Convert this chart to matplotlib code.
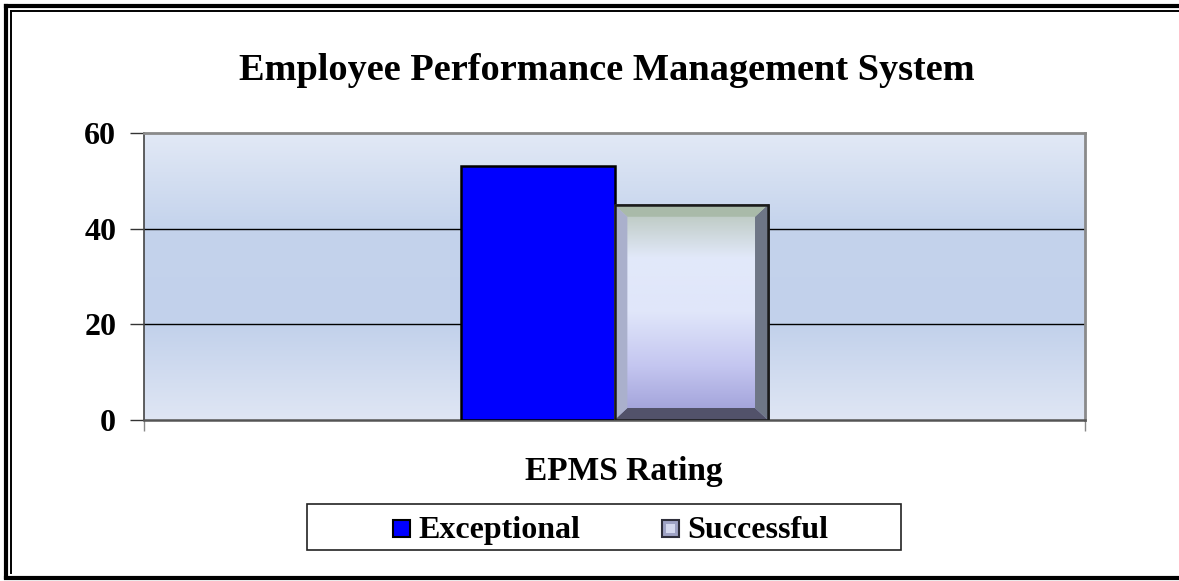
import numpy as np
import matplotlib.pyplot as plt
from matplotlib.patches import Rectangle, Polygon
from matplotlib.colors import LinearSegmentedColormap

categories = ["EPMS Rating"]
series = ["Exceptional", "Successful"]
values = [53, 45]
yticks = [0, 20, 40, 60]

W, H = 1179, 581
fig = plt.figure(figsize=(W / 100, H / 100), dpi=100)
plt.rcParams['font.family'] = ['Liberation Serif', 'DejaVu Serif']


def px(x, y):
    # pixel position (from top-left) -> figure fraction
    return x / W, 1 - y / H


# frame lines: double on left and top, single thick line at the bottom
frame = [((6, 6), (6, 577), 3.0), ((6, 6), (1179, 6), 3.0), ((11, 11), (11, 573), 1.4),
         ((11, 11), (1179, 11), 1.4), ((6, 577.5), (1179, 577.5), 3.0)]
for (xa, ya), (xb, yb), lw in frame:
    (fa, ga), (fb, gb) = px(xa, ya), px(xb, yb)
    fig.add_artist(plt.Line2D([fa, fb], [ga, gb], transform=fig.transFigure, color='black', linewidth=lw))

ax = fig.add_axes([144 / W, 1 - 420 / H, (1085 - 144) / W, (420 - 133) / H])
ax.set_xlim(-0.5, 0.5)
ax.set_ylim(0, 60)

# plot area gradient
bg = LinearSegmentedColormap.from_list('bg', ['#dfe6f4', '#c2d1eb', '#c4d3ec', '#e2e9f6'])
grad = np.linspace(0, 1, 256).reshape(-1, 1)
ax.imshow(grad, cmap=bg, extent=(-0.5, 0.5, 0, 60), aspect='auto', origin='lower', zorder=0)

for t in yticks[1:-1]:
    ax.axhline(t, color='black', linewidth=1.0, zorder=1)

bw = 0.163
x = np.arange(len(categories))
b1 = ax.bar(x - bw / 2, [values[0]], bw, color='#0000ff', edgecolor='black', linewidth=1.8, zorder=3)
b2 = ax.bar(x + bw / 2, [values[1]], bw, color='#d8def4', edgecolor='#1a1a1a', linewidth=1.8, zorder=3)

# bevelled look for the second bar
p = b2[0]
x0, y0, w, h = p.get_x(), p.get_y(), p.get_width(), p.get_height()
inner = LinearSegmentedColormap.from_list('inner', ['#9c9cd6', '#c4c6f0', '#e0e6fa', '#e2e9fa', '#b6c4b8'])
im = ax.imshow(grad, cmap=inner, extent=(x0, x0 + w, y0, y0 + h), aspect='auto', origin='lower', zorder=3.5)
im.set_clip_path(p)
bx = w * 13 / 155
by = 60 * 12 / 287
corners = [(x0, y0), (x0 + w, y0), (x0 + w, y0 + h), (x0, y0 + h)]
ins = [(x0 + bx, y0 + by), (x0 + w - bx, y0 + by), (x0 + w - bx, y0 + h - by), (x0 + bx, y0 + h - by)]
bevel_cols = ['#52526a', '#6e7686', '#a9baa9', '#aab0cc']
for i, c in enumerate(bevel_cols):
    j = (i + 1) % 4
    ax.add_patch(Polygon([corners[i], corners[j], ins[j], ins[i]], closed=True,
                         facecolor=c, edgecolor='none', zorder=3.6))
ax.add_patch(Rectangle((x0, y0), w, h, fill=False, edgecolor='#1a1a1a', linewidth=1.8, zorder=3.8))

ax.set_yticks(yticks)
ax.set_yticklabels([str(t) for t in yticks], fontsize=23, fontweight='bold')
ax.set_xticks([-0.5, 0.5])
ax.set_xticklabels(['', ''])
ax.tick_params(axis='y', length=10, width=1.0, pad=10, color='#333333')
ax.tick_params(axis='x', length=8, width=1.0, color='#888888')

for s in ['top', 'right']:
    ax.spines[s].set_color('#8a8a8a')
    ax.spines[s].set_linewidth(2.0)
ax.spines['left'].set_color('#444444')
ax.spines['left'].set_linewidth(1.2)
ax.spines['bottom'].set_color('#555555')
ax.spines['bottom'].set_linewidth(1.8)

fig.text(*px(606.5, 80), "Employee Performance Management System", ha='center', va='baseline',
         fontsize=27.6, fontweight='bold')
fig.text(*px(623.5, 480), categories[0], ha='center', va='baseline', fontsize=24, fontweight='bold')

# legend, laid out by hand so both entries share one baseline
lx, ly = px(307, 550)
fig.patches.append(Rectangle((lx, ly), 594 / W, 46 / H, transform=fig.transFigure,
                             facecolor='white', edgecolor='#222222', linewidth=1.2))
entries = [(393, '#0000ff', 'black'), (662, '#9ea2c4', '#2e2e3a')]
for (hx, fc, ec), name in zip(entries, series):
    fig.patches.append(Rectangle(px(hx, 537), 17 / W, 17 / H, transform=fig.transFigure,
                                 facecolor=fc, edgecolor=ec, linewidth=1.5))
    if name == series[1]:
        fig.patches.append(Rectangle(px(hx + 4, 533), 9 / W, 9 / H, transform=fig.transFigure,
                                     facecolor='#d4d8ee', edgecolor='none'))
    fig.text(*px(hx + 25, 538), name, ha='left', va='baseline', fontsize=23, fontweight='bold')

fig.savefig('out.png', dpi=100)
